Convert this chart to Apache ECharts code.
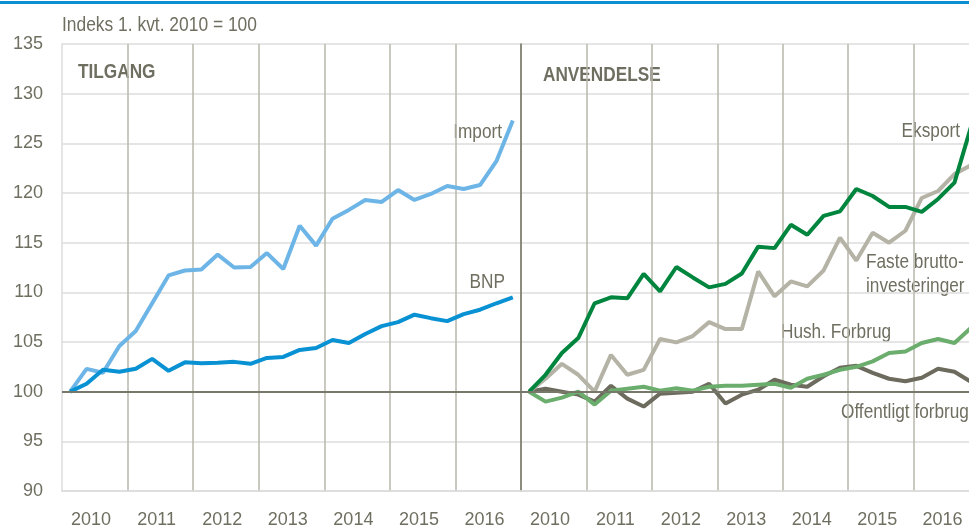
<!DOCTYPE html>
<html>
<head>
<meta charset="utf-8">
<script src="https://cdn.jsdelivr.net/npm/echarts@6/dist/echarts.min.js"></script>
<style>
  html, body { margin: 0; padding: 0; overflow: hidden; background: #fff; }
  #main { width: 990px; height: 529px; }
</style>
</head>
<body>
<div id="main"></div>
<script>
// Kvartaler 2010K1 - 2016K4
const years = ['2010', '2011', '2012', '2013', '2014', '2015', '2016'];
const quarters = ['K1', 'K2', 'K3', 'K4'];
const categories = [];
years.forEach(y => quarters.forEach(q => categories.push(y + q)));

const yTicks = [90, 95, 100, 105, 110, 115, 120, 125, 130, 135];

// TILGANG
const importData = [100, 102.3, 101.9, 104.6, 106.1, 108.9, 111.7, 112.2, 112.3, 113.8, 112.5, 112.55, 113.95, 112.35, 116.7, 114.7,
  117.4, 118.3, 119.3, 119.1, 120.3, 119.3, 119.9, 120.7, 120.4, 120.8, 123.2, 127.3];
const bnpData = [100, 100.8, 102.2, 102.0, 102.3, 103.3, 102.1, 102.95, 102.85, 102.9, 103.0, 102.8, 103.4, 103.5, 104.2, 104.4,
  105.2, 104.9, 105.8, 106.6, 107.0, 107.75, 107.4, 107.1, 107.8, 108.25, 108.9, 109.5];

// ANVENDELSE
const eksportData = [100, 101.7, 103.9, 105.4, 108.9, 109.5, 109.4, 111.85, 110.1, 112.55, 111.5, 110.5, 110.85, 111.9, 114.6, 114.45,
  116.8, 115.8, 117.7, 118.15, 120.4, 119.7, 118.6, 118.6, 118.1, 119.4, 121.05, 126.6];
const fasteData = [100, 101.3, 102.8, 101.7, 100.0, 103.7, 101.7, 102.2, 105.3, 104.96, 105.6, 107.0, 106.3, 106.3, 112.1, 109.6,
  111.1, 110.6, 112.2, 115.5, 113.2, 116.0, 115.0, 116.2, 119.5, 120.2, 121.9, 122.8];
const hushData = [100, 99.0, 99.4, 100.0, 98.7, 100.1, 100.3, 100.5, 100.1, 100.35, 100.1, 100.5, 100.6, 100.6, 100.7, 100.8,
  100.4, 101.3, 101.7, 102.2, 102.5, 103.05, 103.9, 104.05, 104.9, 105.3, 104.9, 106.4];
const offData = [100, 100.3, 100.0, 99.7, 99.0, 100.6, 99.3, 98.5, 99.8, 99.9, 100.0, 100.8, 98.8, 99.7, 100.2, 101.2,
  100.7, 100.5, 101.55, 102.4, 102.6, 101.9, 101.3, 101.05, 101.4, 102.3, 102.0, 101.0];

const FONT = "'Liberation Sans', Arial, sans-serif";
const TXT = '#6f6f61';
const GRIDH = '#dcdcdc';
const GRIDV = '#b9b7aa';
const DARK = '#77776a';

function xAxisFor(gridIndex) {
  return {
    type: 'category',
    gridIndex: gridIndex,
    data: categories,
    boundaryGap: true,
    axisLine: { show: true, lineStyle: { color: GRIDH, width: 1.5 } },
    axisTick: { show: false },
    axisLabel: {
      interval: (i) => i % 4 === 1,
      formatter: (v) => v.slice(0, 4),
      color: TXT,
      fontFamily: FONT,
      fontSize: 18,
      margin: 20,
      padding: [0, 0, 0, 9]
    },
    splitLine: {
      show: true,
      interval: (i) => i % 4 === 0 && i > 0,
      lineStyle: { color: GRIDV, width: 1.5 }
    }
  };
}

function yAxisFor(gridIndex, labels) {
  return {
    type: 'value',
    gridIndex: gridIndex,
    min: yTicks[0],
    max: yTicks[yTicks.length - 1],
    interval: 5,
    axisLine: { show: true, lineStyle: { color: gridIndex === 0 ? GRIDH : DARK, width: 1.5 } },
    axisTick: { show: false },
    axisLabel: { show: labels, color: TXT, fontFamily: FONT, fontSize: 18, margin: 19 },
    splitLine: { show: true, lineStyle: { color: GRIDH, width: 1.5 } }
  };
}

const baseLine = {
  silent: true,
  symbol: 'none',
  label: { show: false },
  lineStyle: { color: DARK, width: 2, type: 'solid' },
  data: [{ yAxis: 100 }]
};

function lineSeries(name, data, color, idx, withBase) {
  const s = {
    name: name,
    type: 'line',
    xAxisIndex: idx,
    yAxisIndex: idx,
    data: data,
    symbol: 'none',
    smooth: false,
    lineStyle: { color: color, width: 4 },
    itemStyle: { color: color }
  };
  if (withBase) s.markLine = baseLine;
  return s;
}

// tekst i smal skrift (skaleret vandret)
function label(text, x, y, align, bold, size, sx) {
  return {
    type: 'text',
    x: x,
    y: y,
    scaleX: sx || 0.82,
    silent: true,
    style: {
      text: text,
      fill: TXT,
      font: (bold ? 'bold ' : '') + (size || 21) + 'px ' + FONT,
      textAlign: align,
      textVerticalAlign: 'middle'
    }
  };
}

const chart = echarts.init(document.getElementById('main'));
chart.setOption({
  animation: false,
  backgroundColor: '#fff',
  grid: [
    { left: 62, top: 44, width: 459, height: 447 },
    { left: 521, top: 44, width: 458, height: 447 }
  ],
  xAxis: [xAxisFor(0), xAxisFor(1)],
  yAxis: [yAxisFor(0, true), yAxisFor(1, false)],
  series: [
    lineSeries('Import', importData, '#6db5e6', 0, true),
    lineSeries('BNP', bnpData, '#0891d3', 0, false),
    lineSeries('Offentligt forbrug', offData, '#6d6b5e', 1, true),
    lineSeries('Hush. Forbrug', hushData, '#6aad6c', 1, false),
    lineSeries('Faste bruttoinvesteringer', fasteData, '#b5b3a6', 1, false),
    lineSeries('Eksport', eksportData, '#00853e', 1, false)
  ],
  graphic: [
    { type: 'rect', shape: { x: 0, y: 1, width: 990, height: 3 }, style: { fill: '#0a8fd0' }, silent: true },
    label('Indeks 1. kvt. 2010 = 100', 62, 25, 'left', false, 20, 0.87),
    label('TILGANG', 78, 72, 'left', true),
    label('ANVENDELSE', 543, 75, 'left', true),
    label('Import', 502, 132, 'right'),
    label('BNP', 505, 282, 'right'),
    label('Eksport', 960, 131, 'right'),
    label('Faste brutto-', 866, 262, 'left'),
    label('investeringer', 866, 286, 'left'),
    label('Hush. Forbrug', 781, 332, 'left'),
    label('Offentligt forbrug', 841, 412, 'left')
  ]
});
</script>
</body>
</html>
